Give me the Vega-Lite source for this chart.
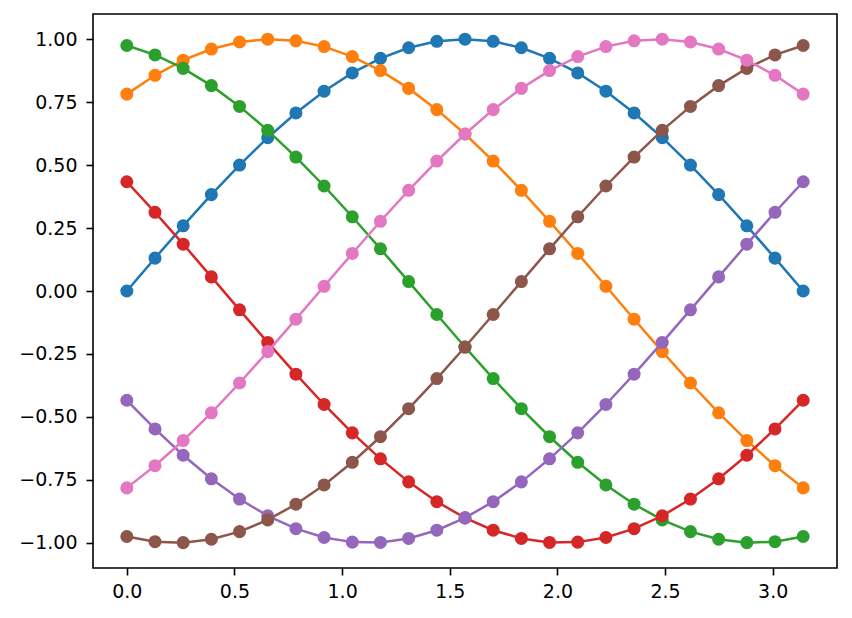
{
"$schema": "https://vega.github.io/schema/vega-lite/v6.json",
"width": 744, "height": 554,
"autosize": {"type": "none"},
"padding": {"left": 93, "top": 14, "right": 15, "bottom": 50},
"background": "white",
"config": {"view": {"stroke": "#000000", "strokeWidth": 1.6}, "axis": {"grid": false, "domain": false, "tickColor": "#000000", "tickWidth": 1.6, "tickSize": 7, "labelPadding": 9, "labelFont": "DejaVu Sans", "labelFontSize": 19, "labelColor": "#000000", "title": null}, "axisX": {"labelPadding": 7}},
"data": {"values": [
{"x":0,"s":"s0","y":0},{"x":0.1309,"s":"s0","y":0.13053},{"x":0.2618,"s":"s0","y":0.25882},{"x":0.3927,"s":"s0","y":0.38268},{"x":0.5236,"s":"s0","y":0.5},{"x":0.6545,"s":"s0","y":0.60876},{"x":0.7854,"s":"s0","y":0.70711},{"x":0.9163,"s":"s0","y":0.79335},{"x":1.0472,"s":"s0","y":0.86603},{"x":1.1781,"s":"s0","y":0.92388},{"x":1.309,"s":"s0","y":0.96593},{"x":1.4399,"s":"s0","y":0.99144},{"x":1.5708,"s":"s0","y":1},{"x":1.7017,"s":"s0","y":0.99144},{"x":1.8326,"s":"s0","y":0.96593},{"x":1.9635,"s":"s0","y":0.92388},{"x":2.0944,"s":"s0","y":0.86603},{"x":2.2253,"s":"s0","y":0.79335},{"x":2.3562,"s":"s0","y":0.70711},{"x":2.4871,"s":"s0","y":0.60876},{"x":2.618,"s":"s0","y":0.5},{"x":2.7489,"s":"s0","y":0.38268},{"x":2.8798,"s":"s0","y":0.25882},{"x":3.0107,"s":"s0","y":0.13053},{"x":3.1416,"s":"s0","y":0},
{"x":0,"s":"s1","y":0.78183},{"x":0.1309,"s":"s1","y":0.85653},{"x":0.2618,"s":"s1","y":0.91656},{"x":0.3927,"s":"s1","y":0.96092},{"x":0.5236,"s":"s1","y":0.98884},{"x":0.6545,"s":"s1","y":0.99983},{"x":0.7854,"s":"s1","y":0.99371},{"x":0.9163,"s":"s1","y":0.9706},{"x":1.0472,"s":"s1","y":0.93088},{"x":1.1781,"s":"s1","y":0.87522},{"x":1.309,"s":"s1","y":0.8046},{"x":1.4399,"s":"s1","y":0.72021},{"x":1.5708,"s":"s1","y":0.62349},{"x":1.7017,"s":"s1","y":0.51611},{"x":1.8326,"s":"s1","y":0.39989},{"x":1.9635,"s":"s1","y":0.27684},{"x":2.0944,"s":"s1","y":0.14904},{"x":2.2253,"s":"s1","y":0.0187},{"x":2.3562,"s":"s1","y":-0.11196},{"x":2.4871,"s":"s1","y":-0.24071},{"x":2.618,"s":"s1","y":-0.36534},{"x":2.7489,"s":"s1","y":-0.48372},{"x":2.8798,"s":"s1","y":-0.59382},{"x":3.0107,"s":"s1","y":-0.69376},{"x":3.1416,"s":"s1","y":-0.78183},
{"x":0,"s":"s2","y":0.97493},{"x":0.1309,"s":"s2","y":0.93754},{"x":0.2618,"s":"s2","y":0.88412},{"x":0.3927,"s":"s2","y":0.81557},{"x":0.5236,"s":"s2","y":0.73305},{"x":0.6545,"s":"s2","y":0.638},{"x":0.7854,"s":"s2","y":0.53203},{"x":0.9163,"s":"s2","y":0.41696},{"x":1.0472,"s":"s2","y":0.29476},{"x":1.1781,"s":"s2","y":0.16751},{"x":1.309,"s":"s2","y":0.03739},{"x":1.4399,"s":"s2","y":-0.09336},{"x":1.5708,"s":"s2","y":-0.22252},{"x":1.7017,"s":"s2","y":-0.34788},{"x":1.8326,"s":"s2","y":-0.46727},{"x":1.9635,"s":"s2","y":-0.57867},{"x":2.0944,"s":"s2","y":-0.68017},{"x":2.2253,"s":"s2","y":-0.77003},{"x":2.3562,"s":"s2","y":-0.84673},{"x":2.4871,"s":"s2","y":-0.90893},{"x":2.618,"s":"s2","y":-0.95557},{"x":2.7489,"s":"s2","y":-0.98588},{"x":2.8798,"s":"s2","y":-0.9993},{"x":3.0107,"s":"s2","y":-0.99563},{"x":3.1416,"s":"s2","y":-0.97493},
{"x":0,"s":"s3","y":0.43389},{"x":0.1309,"s":"s3","y":0.31258},{"x":0.2618,"s":"s3","y":0.18592},{"x":0.3927,"s":"s3","y":0.05607},{"x":0.5236,"s":"s3","y":-0.07473},{"x":0.6545,"s":"s3","y":-0.20425},{"x":0.7854,"s":"s3","y":-0.33028},{"x":0.9163,"s":"s3","y":-0.45066},{"x":1.0472,"s":"s3","y":-0.56332},{"x":1.1781,"s":"s3","y":-0.66635},{"x":1.309,"s":"s3","y":-0.75798},{"x":1.4399,"s":"s3","y":-0.83663},{"x":1.5708,"s":"s3","y":-0.90097},{"x":1.7017,"s":"s3","y":-0.9499},{"x":1.8326,"s":"s3","y":-0.98257},{"x":1.9635,"s":"s3","y":-0.99843},{"x":2.0944,"s":"s3","y":-0.9972},{"x":2.2253,"s":"s3","y":-0.97893},{"x":2.3562,"s":"s3","y":-0.94389},{"x":2.4871,"s":"s3","y":-0.89271},{"x":2.618,"s":"s3","y":-0.82625},{"x":2.7489,"s":"s3","y":-0.74564},{"x":2.8798,"s":"s3","y":-0.65229},{"x":3.0107,"s":"s3","y":-0.54778},{"x":3.1416,"s":"s3","y":-0.43388},
{"x":0,"s":"s4","y":-0.43388},{"x":0.1309,"s":"s4","y":-0.54778},{"x":0.2618,"s":"s4","y":-0.65229},{"x":0.3927,"s":"s4","y":-0.74564},{"x":0.5236,"s":"s4","y":-0.82625},{"x":0.6545,"s":"s4","y":-0.89271},{"x":0.7854,"s":"s4","y":-0.94389},{"x":0.9163,"s":"s4","y":-0.97893},{"x":1.0472,"s":"s4","y":-0.9972},{"x":1.1781,"s":"s4","y":-0.99843},{"x":1.309,"s":"s4","y":-0.98257},{"x":1.4399,"s":"s4","y":-0.9499},{"x":1.5708,"s":"s4","y":-0.90097},{"x":1.7017,"s":"s4","y":-0.83663},{"x":1.8326,"s":"s4","y":-0.75798},{"x":1.9635,"s":"s4","y":-0.66635},{"x":2.0944,"s":"s4","y":-0.56332},{"x":2.2253,"s":"s4","y":-0.45066},{"x":2.3562,"s":"s4","y":-0.33028},{"x":2.4871,"s":"s4","y":-0.20425},{"x":2.618,"s":"s4","y":-0.07473},{"x":2.7489,"s":"s4","y":0.05607},{"x":2.8798,"s":"s4","y":0.18592},{"x":3.0107,"s":"s4","y":0.31258},{"x":3.1416,"s":"s4","y":0.43389},
{"x":0,"s":"s5","y":-0.97493},{"x":0.1309,"s":"s5","y":-0.99563},{"x":0.2618,"s":"s5","y":-0.9993},{"x":0.3927,"s":"s5","y":-0.98588},{"x":0.5236,"s":"s5","y":-0.95557},{"x":0.6545,"s":"s5","y":-0.90893},{"x":0.7854,"s":"s5","y":-0.84673},{"x":0.9163,"s":"s5","y":-0.77003},{"x":1.0472,"s":"s5","y":-0.68017},{"x":1.1781,"s":"s5","y":-0.57867},{"x":1.309,"s":"s5","y":-0.46727},{"x":1.4399,"s":"s5","y":-0.34788},{"x":1.5708,"s":"s5","y":-0.22252},{"x":1.7017,"s":"s5","y":-0.09336},{"x":1.8326,"s":"s5","y":0.03739},{"x":1.9635,"s":"s5","y":0.16751},{"x":2.0944,"s":"s5","y":0.29476},{"x":2.2253,"s":"s5","y":0.41696},{"x":2.3562,"s":"s5","y":0.53203},{"x":2.4871,"s":"s5","y":0.638},{"x":2.618,"s":"s5","y":0.73305},{"x":2.7489,"s":"s5","y":0.81557},{"x":2.8798,"s":"s5","y":0.88412},{"x":3.0107,"s":"s5","y":0.93754},{"x":3.1416,"s":"s5","y":0.97493},
{"x":0,"s":"s6","y":-0.78183},{"x":0.1309,"s":"s6","y":-0.69376},{"x":0.2618,"s":"s6","y":-0.59382},{"x":0.3927,"s":"s6","y":-0.48372},{"x":0.5236,"s":"s6","y":-0.36534},{"x":0.6545,"s":"s6","y":-0.24071},{"x":0.7854,"s":"s6","y":-0.11196},{"x":0.9163,"s":"s6","y":0.0187},{"x":1.0472,"s":"s6","y":0.14904},{"x":1.1781,"s":"s6","y":0.27684},{"x":1.309,"s":"s6","y":0.39989},{"x":1.4399,"s":"s6","y":0.51611},{"x":1.5708,"s":"s6","y":0.62349},{"x":1.7017,"s":"s6","y":0.72021},{"x":1.8326,"s":"s6","y":0.8046},{"x":1.9635,"s":"s6","y":0.87522},{"x":2.0944,"s":"s6","y":0.93088},{"x":2.2253,"s":"s6","y":0.9706},{"x":2.3562,"s":"s6","y":0.99371},{"x":2.4871,"s":"s6","y":0.99983},{"x":2.618,"s":"s6","y":0.98884},{"x":2.7489,"s":"s6","y":0.96092},{"x":2.8798,"s":"s6","y":0.91656},{"x":3.0107,"s":"s6","y":0.85653},{"x":3.1416,"s":"s6","y":0.78183}
]},
"encoding": {
"x": {"field": "x", "type": "quantitative", "scale": {"domain": [-0.15708, 3.29867], "nice": false, "zero": false}, "axis": {"values": [0, 0.5, 1, 1.5, 2, 2.5, 3], "format": ".1f"}},
"y": {"field": "y", "type": "quantitative", "scale": {"domain": [-1.1, 1.1], "nice": false, "zero": false}, "axis": {"values": [-1, -0.75, -0.5, -0.25, 0, 0.25, 0.5, 0.75, 1], "format": ".2f"}},
"color": {"field": "s", "type": "nominal", "scale": {"domain": ["s0","s1","s2","s3","s4","s5","s6"], "range": ["#1f77b4","#ff7f0e","#2ca02c","#d62728","#9467bd","#8c564b","#e377c2"]}, "legend": null}
},
"layer": [
{"transform": [{"filter": "datum.s === 's0'"}], "mark": {"type": "line", "strokeWidth": 2.5, "point": {"filled": true, "size": 170, "opacity": 1}}},
{"transform": [{"filter": "datum.s === 's1'"}], "mark": {"type": "line", "strokeWidth": 2.5, "point": {"filled": true, "size": 170, "opacity": 1}}},
{"transform": [{"filter": "datum.s === 's2'"}], "mark": {"type": "line", "strokeWidth": 2.5, "point": {"filled": true, "size": 170, "opacity": 1}}},
{"transform": [{"filter": "datum.s === 's3'"}], "mark": {"type": "line", "strokeWidth": 2.5, "point": {"filled": true, "size": 170, "opacity": 1}}},
{"transform": [{"filter": "datum.s === 's4'"}], "mark": {"type": "line", "strokeWidth": 2.5, "point": {"filled": true, "size": 170, "opacity": 1}}},
{"transform": [{"filter": "datum.s === 's5'"}], "mark": {"type": "line", "strokeWidth": 2.5, "point": {"filled": true, "size": 170, "opacity": 1}}},
{"transform": [{"filter": "datum.s === 's6'"}], "mark": {"type": "line", "strokeWidth": 2.5, "point": {"filled": true, "size": 170, "opacity": 1}}}
]
}
